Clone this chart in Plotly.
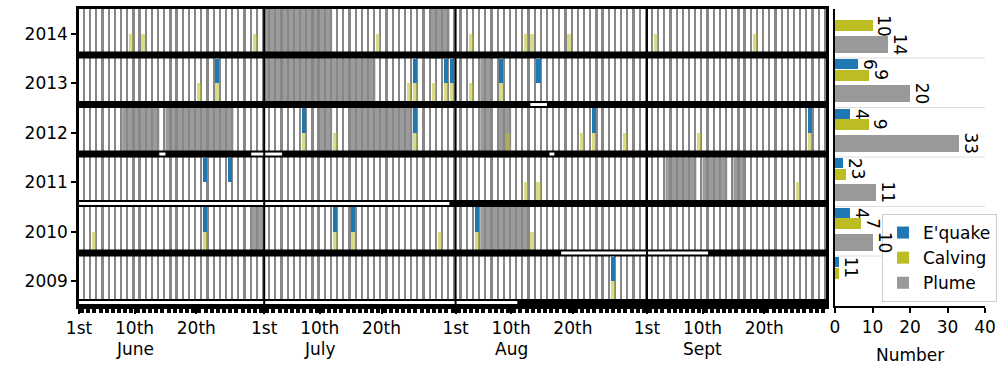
import plotly.graph_objects as go

# ---------------- data (day index: 0 = 1st June) ----------------
years = [2014, 2013, 2012, 2011, 2010, 2009]

quake_days = {
    2014: [],
    2013: [22, 54, 59, 60, 68, 74],
    2012: [36, 54, 83, 118],
    2011: [20, 24],
    2010: [20, 41, 44, 64],
    2009: [86],
}
calving_days = {
    2014: [8, 10, 28, 48, 63, 72, 73, 79, 93, 109],
    2013: [19, 22, 53, 54, 57, 59, 60, 63, 68],
    2012: [36, 41, 54, 69, 81, 83, 88, 100, 118],
    2011: [72, 74, 116],
    2010: [2, 20, 41, 44, 58, 64, 73],
    2009: [86],
}
plume_spans = {
    2014: [(30, 41), (57, 60)],
    2013: [(30, 48), (65, 67)],
    2012: [(7, 13), (14, 25), (39, 41), (44, 54), (65, 67), (68, 70)],
    2011: [(95, 100), (101, 105), (106, 108)],
    2010: [(28, 30), (65, 73)],
    2009: [],
}
data_gaps = {
    2014: [],
    2013: [(73.1, 75.8)],
    2012: [(13.0, 14.0), (27.9, 32.9), (76.2, 77.0)],
    2011: [(0.0, 60.0)],
    2010: [(78.1, 101.9)],
    2009: [(0.0, 71.0)],
}

n_days = 121
tick_days = [0, 9, 19, 30, 39, 49, 61, 70, 80, 92, 101, 111]
tick_text = ["1st", "10th", "20th"] * 4
month_names = ["June", "July", "Aug", "Sept"]
month_label_days = [9, 39, 70, 101]
month_start_days = [30, 61, 92]

quake_counts = [len(quake_days[y]) for y in years]
calving_counts = [len(calving_days[y]) for y in years]
plume_counts = [sum(e - s for s, e in plume_spans[y]) for y in years]

# ---------------- styling ----------------
W, H = 1008, 366
FONT = "DejaVu Sans"
FS = 17
BLUE = "#1f77b4"
OLIVE = "#bcbd22"
GREY = "#999999"

def px_x(p):
    return p / W

def px_y(p):
    return 1 - p / H

main_xdom = [px_x(79), px_x(826)]
right_xdom = [px_x(835), px_x(985)]
ydom = [px_y(306), px_y(9)]
yrange = [2008.5, 2014.5]

BAR_H = 0.14  # coverage bar height (data units)

fig = go.Figure()

# day stripes
fig.add_trace(go.Bar(
    x=[k + 0.81 for k in range(n_days)], y=[6] * n_days, base=2008.5,
    width=0.36, marker=dict(color="#878787", line=dict(width=0)),
    showlegend=False, hoverinfo="skip", xaxis="x", yaxis="y"))

# calving events
cx, cb = [], []
for yr in years:
    for d in calving_days[yr]:
        cx.append(d + 0.43)
        cb.append(yr - 0.5 + BAR_H)
fig.add_trace(go.Bar(
    x=cx, y=[0.5 - BAR_H] * len(cx), base=cb, width=0.65,
    marker=dict(color="rgba(188,189,34,0.55)", line=dict(width=0)),
    showlegend=False, hoverinfo="skip", xaxis="x", yaxis="y"))

# earthquake events
qx, qb = [], []
for yr in years:
    for d in quake_days[yr]:
        qx.append(d + 0.43)
        qb.append(yr)
fig.add_trace(go.Bar(
    x=qx, y=[0.5] * len(qx), base=qb, width=0.65,
    marker=dict(color=BLUE, line=dict(width=0)),
    showlegend=False, hoverinfo="skip", xaxis="x", yaxis="y"))

# right panel counts
fig.add_trace(go.Bar(
    orientation="h", y=[yr + 0.38 for yr in years], x=quake_counts, width=0.2,
    marker=dict(color=BLUE, line=dict(width=0)), name="E'quake",
    xaxis="x2", yaxis="y2"))
fig.add_trace(go.Bar(
    orientation="h", y=[yr + 0.165 for yr in years], x=calving_counts, width=0.22,
    marker=dict(color=OLIVE, line=dict(width=0)), name="Calving",
    xaxis="x2", yaxis="y2"))
fig.add_trace(go.Bar(
    orientation="h", y=[yr - 0.21 for yr in years], x=plume_counts, width=0.34,
    marker=dict(color=GREY, line=dict(width=0)), name="Plume",
    xaxis="x2", yaxis="y2"))

shapes = []
# plume shading
for yr in years:
    for s, e in plume_spans[yr]:
        shapes.append(dict(type="rect", xref="x", yref="y", x0=s, x1=e,
                           y0=yr - 0.5, y1=yr + 0.5, fillcolor="#9b9b9b",
                           line=dict(width=0), layer="below"))
# data coverage bars
for yr in years:
    shapes.append(dict(type="rect", xref="x", yref="y", x0=0, x1=n_days,
                       y0=yr - 0.5, y1=yr - 0.5 + BAR_H, fillcolor="black",
                       line=dict(width=0), layer="above"))
    for a, b in data_gaps[yr]:
        shapes.append(dict(type="rect", xref="x", yref="y", x0=a, x1=b,
                           y0=yr - 0.5 + 0.04, y1=yr - 0.5 + 0.10,
                           fillcolor="white", line=dict(width=0), layer="above"))
# month separators
for d in month_start_days:
    shapes.append(dict(type="line", xref="x", yref="y", x0=d, x1=d,
                       y0=yrange[0], y1=yrange[1],
                       line=dict(color="black", width=2), layer="above"))
# right panel faint separators
for yr in years[:-1]:
    shapes.append(dict(type="line", xref="x2", yref="y2", x0=0, x1=40,
                       y0=yr - 0.49, y1=yr - 0.49,
                       line=dict(color="#dddddd", width=1.2), layer="below"))

annotations = []
# count labels
def add_counts(vals, ys):
    for v, yy in zip(vals, ys):
        if v > 0:
            annotations.append(dict(x=v, y=yy, xref="x2", yref="y2", text=str(v),
                                    textangle=90, showarrow=False, xanchor="left",
                                    yanchor="middle", xshift=0,
                                    font=dict(family=FONT, size=FS, color="black")))
add_counts(quake_counts, [yr + 0.38 for yr in years])
add_counts(calving_counts, [yr + 0.165 for yr in years])
add_counts(plume_counts, [yr - 0.21 for yr in years])

for name, d in zip(month_names, month_label_days):
    annotations.append(dict(x=d, y=px_y(349), xref="x", yref="paper", text=name,
                            showarrow=False, xanchor="center", yanchor="middle",
                            font=dict(family=FONT, size=FS, color="black")))
annotations.append(dict(x=px_x(910), y=px_y(355), xref="paper", yref="paper",
                        text="Number", showarrow=False, xanchor="center",
                        yanchor="middle",
                        font=dict(family=FONT, size=FS, color="black")))

fig.update_layout(
    width=W, height=H, margin=dict(l=0, r=0, t=0, b=0, autoexpand=False),
    paper_bgcolor="white", plot_bgcolor="white",
    barmode="overlay", bargap=0,
    font=dict(family=FONT, size=FS, color="black"),
    shapes=shapes, annotations=annotations,
    xaxis=dict(domain=main_xdom, range=[0, n_days], tickvals=tick_days,
               ticktext=tick_text, ticks="outside", ticklen=5, tickwidth=1.5,
               tickcolor="black", showline=True, linecolor="black", linewidth=2.5,
               mirror=True, showgrid=False, zeroline=False, anchor="y",
               automargin=False,
               tickfont=dict(family=FONT, size=FS, color="black"),
               minor=dict(dtick=1, tick0=0.5, ticks="outside", ticklen=4,
                          tickwidth=4, tickcolor="black", showgrid=False)),
    yaxis=dict(domain=ydom, range=yrange, tickvals=years,
               ticktext=[str(y) for y in years], ticks="outside", ticklen=5,
               tickwidth=1.5, tickcolor="black", showline=True, linecolor="black",
               linewidth=2.5, mirror=True, showgrid=False, zeroline=False,
               anchor="x", automargin=False,
               tickfont=dict(family=FONT, size=FS, color="black")),
    xaxis2=dict(domain=right_xdom, range=[0, 40], tickvals=[0, 10, 20, 30, 40],
                ticks="outside", ticklen=5, tickwidth=1.5, tickcolor="black",
                showline=True, linecolor="black", linewidth=2, showgrid=False,
                zeroline=False, anchor="y2", automargin=False,
                tickfont=dict(family=FONT, size=FS, color="black")),
    yaxis2=dict(domain=ydom, range=yrange, showticklabels=False, ticks="",
                showline=True, linecolor="black", linewidth=2, showgrid=False,
                zeroline=False, anchor="x2", automargin=False),
    legend=dict(x=px_x(882), y=px_y(214), xanchor="left", yanchor="top",
                bgcolor="white", bordercolor="#cccccc", borderwidth=1,
                font=dict(family=FONT, size=FS, color="black"), itemwidth=30,
                tracegroupgap=0),
)

fig.write_html("out.html")
